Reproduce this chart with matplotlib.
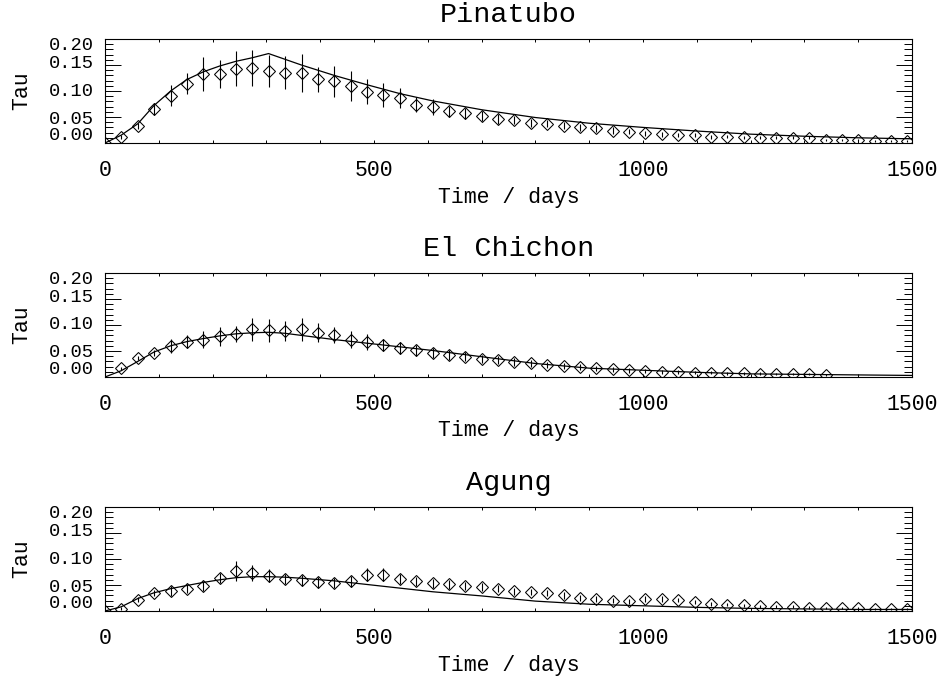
import numpy as np
import matplotlib
matplotlib.use("Agg")
import matplotlib.pyplot as plt
from matplotlib.ticker import MultipleLocator

plt.rcParams['font.family'] = ['Liberation Mono', 'DejaVu Sans']

DAYS_PER_MONTH = 30.44

titles = ["Pinatubo", "El Chichon", "Agung"]

# observed monthly optical depth (month index -> tau)
pin_months = list(range(0, 50))
pin_tau = [0.000, 0.012, 0.032, 0.065, 0.091, 0.114, 0.133, 0.133, 0.143, 0.144,
           0.138, 0.135, 0.135, 0.123, 0.119, 0.109, 0.099, 0.093, 0.087, 0.074,
           0.069, 0.061, 0.057, 0.052, 0.046, 0.044, 0.038, 0.037, 0.033, 0.030,
           0.028, 0.024, 0.022, 0.019, 0.017, 0.016, 0.015, 0.012, 0.012, 0.011,
           0.010, 0.010, 0.010, 0.010, 0.006, 0.005, 0.005, 0.004, 0.004, 0.004]
pin_err = [0.002, 0.004, 0.006, 0.012, 0.020, 0.020, 0.033, 0.027, 0.034, 0.035,
           0.031, 0.032, 0.036, 0.024, 0.030, 0.029, 0.024, 0.023, 0.019, 0.014,
           0.015, 0.011, 0.010, 0.009, 0.009, 0.008, 0.008, 0.007, 0.007, 0.006,
           0.006, 0.006, 0.005, 0.005, 0.005, 0.004, 0.004, 0.004, 0.003, 0.003,
           0.003, 0.003, 0.003, 0.003, 0.002, 0.002, 0.002, 0.002, 0.002, 0.002]

elc_months = list(range(1, 45))
elc_tau = [0.017, 0.036, 0.046, 0.060, 0.068, 0.072, 0.078, 0.083, 0.092, 0.090,
           0.088, 0.092, 0.085, 0.081, 0.072, 0.067, 0.062, 0.056, 0.051, 0.046,
           0.042, 0.039, 0.035, 0.033, 0.029, 0.026, 0.023, 0.021, 0.019, 0.017,
           0.015, 0.013, 0.012, 0.010, 0.010, 0.008, 0.008, 0.007, 0.007, 0.006,
           0.005, 0.005, 0.005, 0.004]
elc_err = [0.003, 0.004, 0.006, 0.014, 0.012, 0.017, 0.018, 0.016, 0.022, 0.022,
           0.019, 0.022, 0.018, 0.016, 0.016, 0.015, 0.012, 0.012, 0.011, 0.010,
           0.009, 0.009, 0.008, 0.008, 0.007, 0.007, 0.006, 0.006, 0.006, 0.005,
           0.005, 0.005, 0.004, 0.004, 0.004, 0.003, 0.003, 0.003, 0.003, 0.003,
           0.002, 0.002, 0.002, 0.002]

agu_months = list(range(0, 50))
agu_tau = [0.000, 0.004, 0.022, 0.034, 0.038, 0.043, 0.048, 0.064, 0.077, 0.073,
           0.068, 0.062, 0.059, 0.055, 0.054, 0.057, 0.070, 0.070, 0.062, 0.057,
           0.053, 0.051, 0.048, 0.046, 0.043, 0.038, 0.036, 0.034, 0.030, 0.025,
           0.023, 0.020, 0.019, 0.023, 0.023, 0.021, 0.017, 0.014, 0.012, 0.011,
           0.009, 0.008, 0.008, 0.006, 0.006, 0.005, 0.005, 0.004, 0.004, 0.004]
agu_err = [0.002, 0.003, 0.005, 0.006, 0.010, 0.008, 0.010, 0.010, 0.019, 0.016,
           0.012, 0.010, 0.010, 0.010, 0.010, 0.010, 0.012, 0.012, 0.010, 0.009,
           0.009, 0.008, 0.008, 0.008, 0.007, 0.007, 0.006, 0.006, 0.006, 0.005,
           0.005, 0.005, 0.005, 0.005, 0.005, 0.004, 0.004, 0.004, 0.003, 0.003,
           0.003, 0.003, 0.003, 0.003, 0.002, 0.002, 0.002, 0.002, 0.002, 0.002]

# model curves (day -> tau)
pin_model_day = [0, 30, 61, 91, 122, 152, 183, 213, 243, 274, 304, 365, 426, 487,
                 548, 609, 700, 800, 900, 1000, 1100, 1200, 1300, 1400, 1500]
pin_model_tau = [0.000, 0.015, 0.037, 0.072, 0.100, 0.122, 0.137, 0.148, 0.157, 0.164,
                 0.172, 0.150, 0.130, 0.112, 0.095, 0.081, 0.064, 0.049, 0.038, 0.030,
                 0.023, 0.017, 0.013, 0.010, 0.008]
elc_model_day = [0, 30, 61, 91, 122, 152, 183, 213, 243, 274, 304, 335, 365, 426, 487,
                 548, 609, 700, 800, 900, 1000, 1100, 1200, 1300, 1400, 1500]
elc_model_tau = [0.000, 0.012, 0.030, 0.048, 0.060, 0.068, 0.074, 0.079, 0.083, 0.085,
                 0.086, 0.084, 0.080, 0.072, 0.065, 0.058, 0.051, 0.039, 0.026, 0.017,
                 0.013, 0.009, 0.006, 0.005, 0.004, 0.003]
agu_model_day = [0, 30, 61, 91, 122, 152, 183, 213, 243, 274, 304, 335, 365, 426, 487,
                 548, 609, 700, 800, 900, 1000, 1100, 1200, 1300, 1400, 1500]
agu_model_tau = [0.000, 0.008, 0.024, 0.035, 0.043, 0.049, 0.055, 0.060, 0.064, 0.066,
                 0.066, 0.065, 0.063, 0.058, 0.051, 0.044, 0.037, 0.029, 0.019, 0.013,
                 0.010, 0.007, 0.005, 0.004, 0.003, 0.003]

ytick_vals = [0.00, 0.05, 0.10, 0.15, 0.20]
ytick_labels = ["0.00", "0.05", "0.10", "0.15", "0.20"]
ylabel_shift_px = [7, -2, 0, 1, -6]
xtick_vals = [0, 500, 1000, 1500]
xtick_labels = ["0", "500", "1000", "1500"]

obs = [(pin_months, pin_tau, pin_err), (elc_months, elc_tau, elc_err),
       (agu_months, agu_tau, agu_err)]
models = [(pin_model_day, pin_model_tau), (elc_model_day, elc_model_tau),
          (agu_model_day, agu_model_tau)]

W, H = 944, 682
fig = plt.figure(figsize=(W / 100, H / 100), dpi=100)
left_px, right_px = 105, 912
tops_px = [39, 273, 507]
h_px = 104

for k in range(3):
    ax = fig.add_axes([left_px / W, 1 - (tops_px[k] + h_px) / H,
                       (right_px - left_px) / W, h_px / H])
    months, tau, err = obs[k]
    days = np.array(months) * DAYS_PER_MONTH
    mday, mtau = models[k]
    ax.plot(mday, mtau, color='k', lw=0.9)
    ax.errorbar(days, tau, yerr=err, fmt='none', ecolor='k', elinewidth=0.8, capsize=0)
    ax.plot(days, tau, 'D', ms=6.4, mfc='none', mec='k', mew=0.75)

    ax.set_xlim(0, 1500)
    ax.set_ylim(0, 0.2)
    ax.set_xticks(xtick_vals)
    ax.set_xticklabels(xtick_labels, fontsize=15.5)
    ax.xaxis.set_minor_locator(MultipleLocator(100))
    ax.set_yticks(ytick_vals)
    ax.set_yticklabels([])
    ax.yaxis.set_minor_locator(MultipleLocator(0.01))
    ax.tick_params(axis='x', which='both', direction='in', top=True, bottom=True,
                   width=0.7, pad=12.5)
    ax.tick_params(axis='x', which='major', length=2.5)
    ax.tick_params(axis='x', which='minor', length=2.0)
    ax.tick_params(axis='y', which='both', direction='in', left=True, right=True, width=0.7)
    ax.tick_params(axis='y', which='major', length=11.5)
    ax.tick_params(axis='y', which='minor', length=5.8)
    for s in ax.spines.values():
        s.set_linewidth(0.8)

    for v, lab, dy in zip(ytick_vals, ytick_labels, ylabel_shift_px):
        ax.annotate(lab, xy=(0, v), xycoords=('axes fraction', 'data'),
                    xytext=(-11, dy), textcoords='offset pixels',
                    ha='right', va='center', fontsize=13.5, annotation_clip=False)

    ax.set_title(titles[k], fontsize=20.5, pad=12)
    ax.annotate("Time / days", xy=(0.5, 0), xycoords='axes fraction',
                xytext=(0, -54), textcoords='offset pixels',
                ha='center', va='center', fontsize=15.5)
    ax.annotate("Tau", xy=(0, 0.5), xycoords='axes fraction',
                xytext=(-83, 0), textcoords='offset pixels',
                ha='center', va='center', rotation=90, fontsize=15.5)

fig.savefig("out.png", dpi=100)
